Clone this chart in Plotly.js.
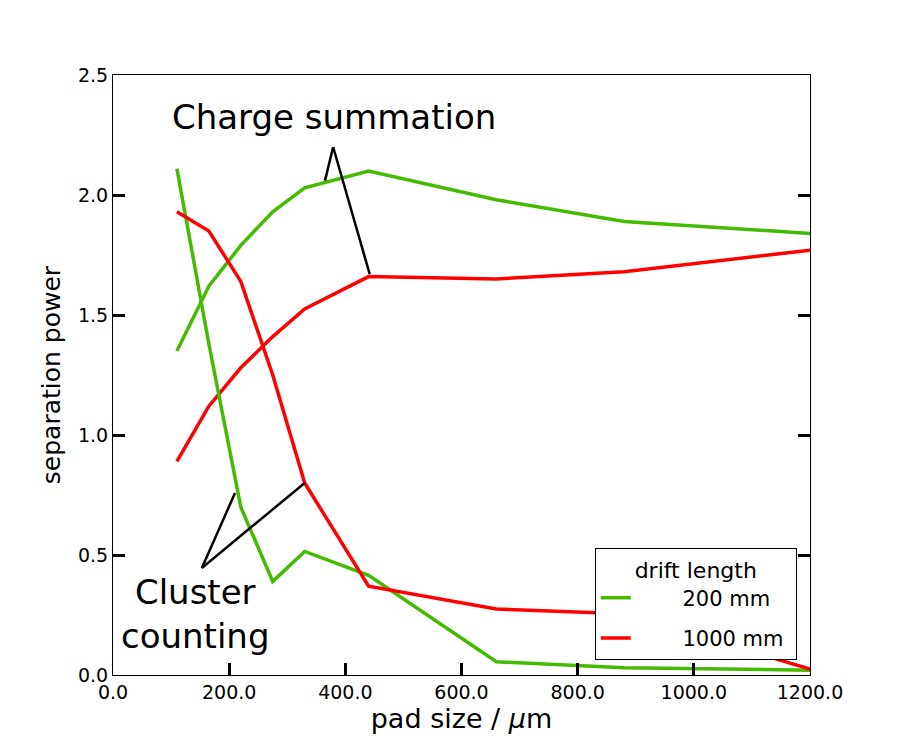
<!DOCTYPE html>
<html>
<head>
<meta charset="utf-8">
<script src="https://cdn.plot.ly/plotly-3.0.1.min.js"></script>
<style>
  body { margin: 0; background: #fff; }
  #chart { width: 900px; height: 750px; }
</style>
</head>
<body>
<div id="chart"></div>
<script>
// pad sizes in micrometres
const padSize = [110, 165, 220, 275, 330, 440, 660, 880, 1200];

// charge summation
const chargeSum200 = [1.35, 1.62, 1.79, 1.93, 2.03, 2.10, 1.98, 1.89, 1.84];
const chargeSum1000 = [0.89, 1.12, 1.28, 1.41, 1.525, 1.66, 1.65, 1.68, 1.77];

// cluster counting
const clusterCount200 = [2.11, 1.38, 0.70, 0.39, 0.515, 0.415, 0.055, 0.03, 0.02];
const clusterCount1000 = [1.93, 1.85, 1.64, 1.25, 0.80, 0.37, 0.275, 0.255, 0.025];

const seriesNames = ['200 mm', '1000 mm'];
const seriesColors = ['#44bb00', '#ff0000'];

const yTicks = [0, 0.5, 1.0, 1.5, 2.0, 2.5];
const xTicks = [0, 200, 400, 600, 800, 1000, 1200];

const nb = '\u00a0';

function lineTrace(y, i, showInLegend) {
    return {
        x: padSize,
        y: y,
        type: 'scatter',
        mode: 'lines',
        // padding around the label so the legend box gets wider
        name: nb.repeat(7) + seriesNames[i] + nb,
        legendgroup: seriesNames[i],
        showlegend: showInLegend,
        line: { color: seriesColors[i], width: 3.5 }
    };
}

const data = [
    lineTrace(chargeSum200, 0, true),
    lineTrace(chargeSum1000, 1, true),
    lineTrace(clusterCount200, 0, false),
    lineTrace(clusterCount1000, 1, false)
];

// annotation pointer lines, in data units
function pointer(x0, y0, x1, y1) {
    return {
        type: 'line', xref: 'x', yref: 'y',
        x0: x0, y0: y0, x1: x1, y1: y1,
        line: { color: 'black', width: 2.5 }
    };
}

const bigFont = { family: 'DejaVu Sans', size: 34, color: 'black' };

const layout = {
    width: 900,
    height: 750,
    margin: { l: 113, r: 90, t: 75, b: 75 },
    paper_bgcolor: 'white',
    plot_bgcolor: 'white',
    font: { family: 'DejaVu Sans', color: 'black' },
    showlegend: true,
    legend: {
        x: 0.981, y: 0.025, xanchor: 'right', yanchor: 'bottom',
        bordercolor: 'black', borderwidth: 1, bgcolor: 'white',
        font: { family: 'DejaVu Sans', size: 21 },
        title: { text: 'drift length', side: 'top center', font: { family: 'DejaVu Sans', size: 22 } },
        traceorder: 'grouped',
        tracegroupgap: 10
    },
    xaxis: {
        range: [0, 1200],
        tickvals: xTicks,
        tickformat: '.1f',
        ticks: 'inside', ticklen: 12, tickwidth: 3, tickcolor: 'black',
        showline: true, linecolor: 'black', linewidth: 1, mirror: true,
        showgrid: false, zeroline: false,
        tickfont: { family: 'DejaVu Sans', size: 19 },
        title: { text: 'pad size / <i>μ</i>m', font: { family: 'DejaVu Sans', size: 27 }, standoff: 6 }
    },
    yaxis: {
        range: [0, 2.5],
        tickvals: yTicks,
        tickformat: '.1f',
        ticks: 'inside', ticklen: 12, tickwidth: 3, tickcolor: 'black',
        showline: true, linecolor: 'black', linewidth: 1, mirror: 'ticks',
        showgrid: false, zeroline: false,
        tickfont: { family: 'DejaVu Sans', size: 19 },
        title: { text: 'separation power', font: { family: 'DejaVu Sans', size: 25 }, standoff: 10 }
    },
    shapes: [
        pointer(379, 2.2, 365, 2.06),
        pointer(379, 2.2, 442, 1.67),
        pointer(153, 0.446, 210, 0.758),
        pointer(153, 0.446, 330, 0.80)
    ],
    annotations: [
        {
            text: 'Charge summation', xref: 'x', yref: 'y', x: 380, y: 2.325,
            showarrow: false, font: bigFont, xanchor: 'center', yanchor: 'middle'
        },
        {
            text: 'Cluster<br>counting', xref: 'x', yref: 'y', x: 142, y: 0.255,
            showarrow: false, font: bigFont, xanchor: 'center', yanchor: 'middle', align: 'center'
        }
    ]
};

Plotly.newPlot('chart', data, layout, { displayModeBar: false });
</script>
</body>
</html>
